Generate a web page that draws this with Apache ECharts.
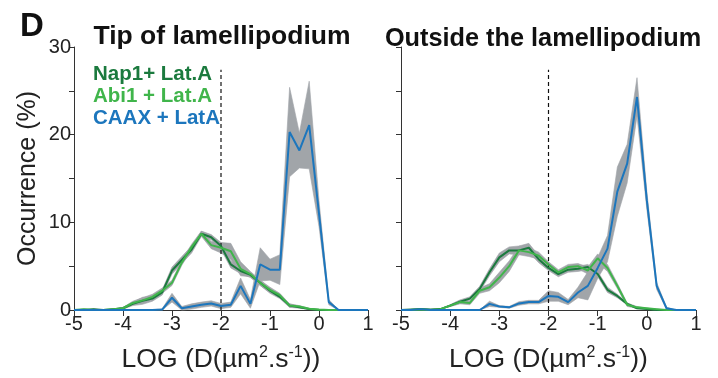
<!DOCTYPE html>
<html><head><meta charset="utf-8">
<script src="https://cdn.jsdelivr.net/npm/echarts@6/dist/echarts.min.js"></script>
<style>html,body{margin:0;padding:0;background:#fff}#c{width:718px;height:378px}</style>
</head><body><div id="c"></div>
<script>
// log10 diffusion bins
const xs = [-5,-4.8,-4.6,-4.4,-4.2,-4,-3.8,-3.6,-3.4,-3.2,-3,-2.8,-2.6,-2.4,-2.2,-2,-1.8,-1.6,-1.4,-1.2,-1,-0.8,-0.6,-0.4,-0.2,0,0.2,0.4,0.6,0.8,1];
const xTicks = [-5,-4,-3,-2,-1,0,1];
const yTicks = [0,10,20,30];
const seriesNames = ['Nap1+ Lat.A','Abi1 + Lat.A','CAAX + LatA'];
const seriesColors = ['#1b7a3e','#40b54b','#1c76bd'];
const panelTitles = ['Tip of lamellipodium','Outside the lamellipodium'];
const thresholdX = -2;
const thresholdTop = 27.4;

// Tip of lamellipodium
const tipNap1 = [0,0,0.1,0,0.1,0.2,0.7,1.05,1.3,2.0,4.5,5.7,6.9,8.7,8.3,7.3,5.2,4.45,4.0,3.1,2.2,1.5,0.5,0.3,0.1,0,0,0,0,0,0];
const tipAbi1 = [0,0.1,0,0,0.1,0.2,0.8,1.1,1.5,2.2,3.1,5.4,7.2,8.7,7.4,7.1,6.7,4.7,4.1,3.1,2.3,1.7,0.5,0.4,0.15,0.05,0,0,0,0,0];
const tipCAAX = [0,0,0,0,0,0,0,0,0,0.05,1.4,0.2,0.4,0.6,0.75,0.45,0.6,2.75,0.7,5.2,4.6,4.6,20.3,18.2,21.1,11,0.9,0,0,0,0];
const tipNap1Err = [0,0,0,0,0,0.1,0.2,0.4,0.3,0.3,0.4,0.4,0.4,0.3,0.3,0.4,0.4,0.3,0.3,0.3,0.3,0.2,0.2,0.1,0.05,0,0,0,0,0,0];
const tipAbi1Err = [0,0,0,0,0,0.1,0.2,0.3,0.3,0.3,0.3,0.3,0.3,0.3,0.4,0.6,0.9,0.8,0.3,0.3,0.3,0.2,0.2,0.1,0.05,0,0,0,0,0,0];
const tipCAAXErr = [0,0,0,0,0,0,0,0,0,0.1,0.5,0.2,0.3,0.3,0.3,0.3,0.3,0.9,0.5,1.9,1.2,1.7,5.1,2.0,5.0,1.5,0.3,0,0,0,0];

// Outside the lamellipodium
const outNap1 = [0,0.05,0.1,0.05,0.1,0.5,0.95,1.3,2.4,4.3,6.0,6.8,6.8,7.1,5.8,4.8,4.1,4.6,4.7,4.9,4.1,2.3,1.6,0.7,0.2,0.1,0,0,0,0,0];
const outAbi1 = [0,0,0.05,0,0.1,0.5,0.9,0.8,2.2,2.6,3.7,5.0,6.8,6.6,6.2,5.2,4.3,4.9,5.0,4.5,5.9,4.8,2.75,0.6,0.3,0.2,0.1,0,0,0,0];
const outCAAX = [0,0,0.1,0,0,0,0,0,0,0.7,0.4,0.3,0.75,0.9,0.9,1.6,1.5,0.9,2.0,2.75,4.8,7.0,13.5,16.7,24.3,12.5,2.75,0.2,0,0,0];
const outNap1Err = [0,0,0,0,0,0.1,0.2,0.2,0.3,0.4,0.5,0.4,0.5,0.5,0.4,0.3,0.3,0.3,0.3,0.3,0.3,0.3,0.2,0.1,0.05,0,0,0,0,0,0];
const outAbi1Err = [0,0,0,0,0,0.1,0.2,0.2,0.3,0.4,0.6,0.6,0.5,0.5,0.4,0.3,0.3,0.3,0.3,0.4,0.5,0.4,0.3,0.2,0.1,0,0,0,0,0,0];
const outCAAXErr = [0,0,0,0,0,0,0,0,0,0.3,0.1,0.1,0.2,0.2,0.2,0.6,0.5,0.3,0.6,1.6,1.2,1.5,2.8,2.2,2.2,1.0,0.4,0.1,0,0,0];

const panels = [
  {vals:[tipNap1,tipAbi1,tipCAAX], errs:[tipNap1Err,tipAbi1Err,tipCAAXErr]},
  {vals:[outNap1,outAbi1,outCAAX], errs:[outNap1Err,outAbi1Err,outCAAXErr]}
];

const FONT = "'Liberation Sans', Arial, Helvetica, sans-serif";
const AX = '#333';
const BAND = '#a1a5a9';

const chart = echarts.init(document.getElementById('c'), null, {renderer:'canvas'});

const grids = [
  {left:74, top:47, width:294, height:265},
  {left:401, top:47, width:295, height:265}
];

const xAxes = grids.map((g,i)=>({
  type:'value', gridIndex:i, min:xTicks[0], max:xTicks[xTicks.length-1], interval:1,
  axisLine:{onZero:false, lineStyle:{color:AX, width:1}},
  axisTick:{length:6, lineStyle:{color:AX}},
  axisLabel:{color:'#222', fontSize:20, fontFamily:FONT, margin:4},
  splitLine:{show:false},
  name:'{a|LOG (D(µm}{s|2}{a|.s}{s|-1}{a|))}',
  nameLocation:'middle', nameGap:35,
  nameTextStyle:{rich:{
    a:{fontSize:26.5, fontFamily:FONT, color:'#222', lineHeight:28, verticalAlign:'bottom'},
    s:{fontSize:16, fontFamily:FONT, color:'#222', lineHeight:28, verticalAlign:'top'}
  }}
}));

const yAxes = grids.map((g,i)=>({
  type:'value', gridIndex:i, min:0, max:yTicks[yTicks.length-1], interval:5,
  axisLine:{show:true, onZero:false, lineStyle:{color:AX, width:1}},
  axisTick:{show:true, length:5, lineStyle:{color:AX}},
  axisLabel:{show:i===0, color:'#222', fontSize:20, fontFamily:FONT, margin:3,
    formatter:v=> yTicks.indexOf(v)>=0 ? String(v) : ''},
  splitLine:{show:false},
  name: i===0 ? 'Occurrence (%)' : '',
  nameLocation:'middle', nameGap:33, nameRotate:90,
  nameTextStyle:{fontSize:25, fontFamily:FONT, color:'#222'}
}));

const series = [];
panels.forEach((p,pi)=>{
  // grey SEM bands
  p.vals.forEach((v,si)=>{
    const e = p.errs[si];
    series.push({
      type:'custom', xAxisIndex:pi, yAxisIndex:pi, silent:true, z:1,
      data:[[xs[0],0]],
      renderItem:(params, api)=>{
        const pts = [];
        for (let k=0;k<xs.length;k++) pts.push(api.coord([xs[k], v[k]+e[k]]));
        for (let k=xs.length-1;k>=0;k--) pts.push(api.coord([xs[k], Math.max(0, v[k]-e[k])]));
        return {type:'polygon', shape:{points:pts}, style:{fill:BAND, stroke:BAND, lineWidth:0.6}};
      }
    });
  });
  // threshold dashed line
  series.push({
    type:'line', xAxisIndex:pi, yAxisIndex:pi, silent:true, z:2,
    data:[[thresholdX,0],[thresholdX,thresholdTop]], symbol:'none',
    lineStyle:{color:'#111', width:1.2, type:[4,3]}
  });
  // mean lines
  p.vals.forEach((v,si)=>{
    series.push({
      name:seriesNames[si], type:'line', xAxisIndex:pi, yAxisIndex:pi, z:3+si,
      data: xs.map((x,k)=>[x, v[k]]), symbol:'none', silent:true,
      lineStyle:{color:seriesColors[si], width:2}, itemStyle:{color:seriesColors[si]}
    });
  });
});

chart.setOption({
  animation:false,
  backgroundColor:'#fff',
  grid:grids,
  xAxis:xAxes,
  yAxis:yAxes,
  legend:{
    orient:'vertical', left:83, top:59, icon:'none', itemWidth:0, itemHeight:14, itemGap:1,
    selectedMode:false,
    textStyle:{fontSize:20.5, fontWeight:'bold', fontFamily:FONT, padding:[0,0,0,0]},
    data: seriesNames.map((n,i)=>({name:n, textStyle:{color:seriesColors[i]}}))
  },
  graphic:[
    {type:'text', left:20, top:10, style:{text:'D', font:'bold 33px '+FONT, fill:'#111'}},
    {type:'text', x:222, y:37, style:{text:panelTitles[0], font:'bold 26.5px '+FONT, fill:'#111', textAlign:'center', textVerticalAlign:'middle'}},
    {type:'text', x:543, y:39, style:{text:panelTitles[1], font:'bold 25.3px '+FONT, fill:'#111', textAlign:'center', textVerticalAlign:'middle'}}
  ],
  series:series
});
</script></body></html>
